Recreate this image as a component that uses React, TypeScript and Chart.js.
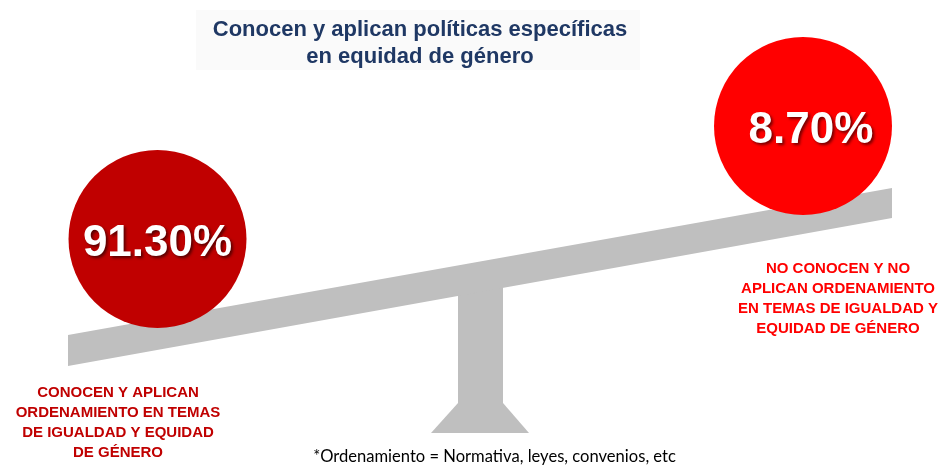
import React, { useEffect, useRef } from "react";
import { Chart, registerables } from "chart.js";

Chart.register(...registerables);

// ---------- data ----------
const titleLines = ["Conocen y aplican políticas específicas", "en equidad de género"];
const categories = [
  ["CONOCEN Y APLICAN", "ORDENAMIENTO EN TEMAS", "DE IGUALDAD Y EQUIDAD", "DE GÉNERO"],
  ["NO CONOCEN Y NO", "APLICAN ORDENAMIENTO", "EN TEMAS DE IGUALDAD Y", "EQUIDAD DE GÉNERO"],
];
const percentages = [91.3, 8.7];
const footnote = "*Ordenamiento = Normativa, leyes, convenios, etc";

// ---------- layout (scale units == pixels) ----------
const W = 942;
const H = 465;
const circleColors = ["#C00000", "#FF0000"];
const circleCenters = [
  { x: 157.5, y: 239 },
  { x: 803, y: 126 },
];
const circleRadius = 89;
const valueLabelOffsetX = [0, 8];
const valueBaselineOffset = 17;
const labelAnchors = [
  { x: 118, y: 397 },
  { x: 838, y: 273 },
];
const beam = [
  [68, 335],
  [892, 188],
  [892, 218],
  [68, 366],
];
const post = [
  [458, 275],
  [503, 275],
  [503, 404],
  [458, 404],
];
const base = [
  [458, 403],
  [503, 403],
  [529, 433],
  [431, 433],
];
const grey = "#BFBFBF";
const titleBox = { x0: 196, y0: 10, x1: 640, y1: 70 };

const FONT = "'Liberation Sans', Arial, sans-serif";

function poly(chart: any, pts: number[][], color: string) {
  const { ctx, scales } = chart;
  ctx.save();
  ctx.fillStyle = color;
  ctx.beginPath();
  pts.forEach((p, i) => {
    const px = scales.x.getPixelForValue(p[0]);
    const py = scales.y.getPixelForValue(p[1]);
    if (i === 0) ctx.moveTo(px, py);
    else ctx.lineTo(px, py);
  });
  ctx.closePath();
  ctx.fill();
  ctx.restore();
}

const seesawPlugin = {
  id: "seesaw",
  beforeDatasetsDraw(chart: any) {
    const { ctx, scales } = chart;
    const X = (v: number) => scales.x.getPixelForValue(v);
    const Y = (v: number) => scales.y.getPixelForValue(v);
    // title box
    ctx.save();
    ctx.fillStyle = "#FAFAFA";
    ctx.fillRect(X(titleBox.x0), Y(titleBox.y0), X(titleBox.x1) - X(titleBox.x0), Y(titleBox.y1) - Y(titleBox.y0));
    ctx.restore();
    // stand & beam
    poly(chart, post, grey);
    poly(chart, base, grey);
    poly(chart, beam, grey);
  },
  afterDatasetsDraw(chart: any) {
    const { ctx, scales } = chart;
    const X = (v: number) => scales.x.getPixelForValue(v);
    const Y = (v: number) => scales.y.getPixelForValue(v);

    // title
    ctx.save();
    ctx.fillStyle = "#1F3864";
    ctx.font = `bold 22px ${FONT}`;
    ctx.textAlign = "center";
    ctx.textBaseline = "alphabetic";
    ctx.fillText(titleLines[0], X(420), Y(36));
    ctx.fillText(titleLines[1], X(420), Y(63));
    ctx.restore();

    // value labels
    const meta = chart.getDatasetMeta(0);
    meta.data.forEach((pt: any, i: number) => {
      ctx.save();
      ctx.font = `bold 44px ${FONT}`;
      ctx.textAlign = "center";
      ctx.textBaseline = "alphabetic";
      ctx.fillStyle = "#FFFFFF";
      ctx.shadowColor = "rgba(0,0,0,0.55)";
      ctx.shadowOffsetX = 2;
      ctx.shadowOffsetY = 2;
      ctx.shadowBlur = 3;
      ctx.fillText(percentages[i].toFixed(2) + "%", pt.x + valueLabelOffsetX[i], pt.y + valueBaselineOffset);
      ctx.restore();
    });

    // category labels
    categories.forEach((lines, i) => {
      ctx.save();
      ctx.font = `bold 15px ${FONT}`;
      ctx.textAlign = "center";
      ctx.textBaseline = "alphabetic";
      ctx.fillStyle = circleColors[i];
      lines.forEach((ln, j) => {
        ctx.fillText(ln, X(labelAnchors[i].x), Y(labelAnchors[i].y + j * 20));
      });
      ctx.restore();
    });

    // footnote
    ctx.save();
    let size = 16;
    ctx.font = `${size}px Lato, 'Open Sans', sans-serif`;
    const w = ctx.measureText(footnote).width;
    size = size * (363 / w);
    ctx.font = `${size.toFixed(2)}px Lato, 'Open Sans', sans-serif`;
    ctx.fillStyle = "#000000";
    ctx.textAlign = "center";
    ctx.textBaseline = "alphabetic";
    ctx.fillText(footnote, X(494.5), Y(462));
    ctx.restore();
  },
};

export default function App() {
  const ref = useRef<HTMLCanvasElement | null>(null);
  useEffect(() => {
    if (!ref.current) return;
    const chart = new Chart(ref.current, {
      type: "bubble",
      data: {
        datasets: [
          {
            label: "Ordenamiento",
            data: percentages.map((v, i) => ({
              x: circleCenters[i].x,
              y: circleCenters[i].y,
              r: circleRadius,
              v,
            })),
            backgroundColor: circleColors,
            borderWidth: 0,
            hoverRadius: 0,
            clip: false,
          } as any,
        ],
      },
      options: {
        responsive: false,
        maintainAspectRatio: false,
        animation: false,
        events: [],
        layout: { padding: 0, autoPadding: false },
        scales: {
          x: { type: "linear", min: 0, max: W, display: false },
          y: { type: "linear", min: 0, max: H, reverse: true, display: false },
        },
        plugins: {
          legend: { display: false },
          tooltip: { enabled: false },
          title: { display: false },
        },
      } as any,
      plugins: [seesawPlugin],
    });
    return () => chart.destroy();
  }, []);
  return (
    <div style={{ position: "fixed", left: 0, top: 0, width: W, height: H, background: "#FFFFFF" }}>
      <canvas ref={ref} width={W} height={H} style={{ display: "block", width: W, height: H }} />
    </div>
  );
}
